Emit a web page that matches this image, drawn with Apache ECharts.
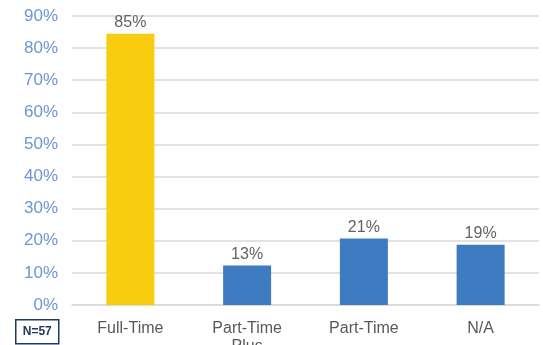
<!DOCTYPE html>
<html>
<head>
<meta charset="utf-8">
<script src="https://cdn.jsdelivr.net/npm/echarts@6/dist/echarts.min.js"></script>
<style>
  html, body { margin: 0; padding: 0; background: #fff; }
  #chart { width: 543px; height: 345px; }
</style>
</head>
<body>
<div id="chart"></div>
<script>
var categorias = ['Full-Time', 'Part-Time\nPlus', 'Part-Time', 'N/A'];
var valores = [84.5, 12.3, 20.7, 18.8];
var etiquetas = ['85%', '13%', '21%', '19%'];
var colores = ['#FACC0F', '#3E7BC0', '#3E7BC0', '#3E7BC0'];

var dom = document.getElementById('chart');
var myChart = echarts.init(dom, null, { renderer: 'canvas' });

var option = {
  animation: false,
  grid: { left: 72, right: 4, top: 16, bottom: 40, outerBoundsMode: 'none', containLabel: false },
  xAxis: {
    type: 'category',
    data: categorias,
    axisLine: { lineStyle: { color: '#d9d9d9', width: 1.5 } },
    axisTick: { show: false },
    axisLabel: {
      color: '#595959',
      fontSize: 16,
      fontFamily: 'Liberation Sans',
      margin: 15,
      lineHeight: 18
    }
  },
  yAxis: {
    type: 'value',
    min: 0,
    max: 90,
    interval: 10,
    axisLabel: {
      formatter: '{value}%',
      color: '#6A96D4',
      fontSize: 17,
      fontFamily: 'Liberation Sans',
      margin: 14
    },
    splitLine: { lineStyle: { color: '#d9d9d9', width: 1.5 } }
  },
  series: [
    {
      type: 'bar',
      barWidth: 48,
      data: valores.map(function (v, i) {
        return { value: v, itemStyle: { color: colores[i] } };
      }),
      label: {
        show: true,
        position: 'top',
        distance: 3,
        color: '#636363',
        fontSize: 16,
        fontFamily: 'Liberation Sans',
        formatter: function (p) { return etiquetas[p.dataIndex]; }
      }
    }
  ],
  graphic: [
    {
      type: 'group',
      left: 15,
      top: 319,
      children: [
        {
          type: 'rect',
          shape: { x: 0, y: 0, width: 43, height: 24 },
          style: { fill: '#fff', stroke: '#1F3864', lineWidth: 1.5 }
        },
        {
          type: 'text',
          style: {
            x: 21.5, y: 12,
            text: 'N=57',
            align: 'center',
            verticalAlign: 'middle',
            fill: '#1F3864',
            font: 'bold 12px Liberation Sans'
          }
        }
      ]
    }
  ]
};

myChart.setOption(option);
window.addEventListener('resize', myChart.resize);
</script>
</body>
</html>
